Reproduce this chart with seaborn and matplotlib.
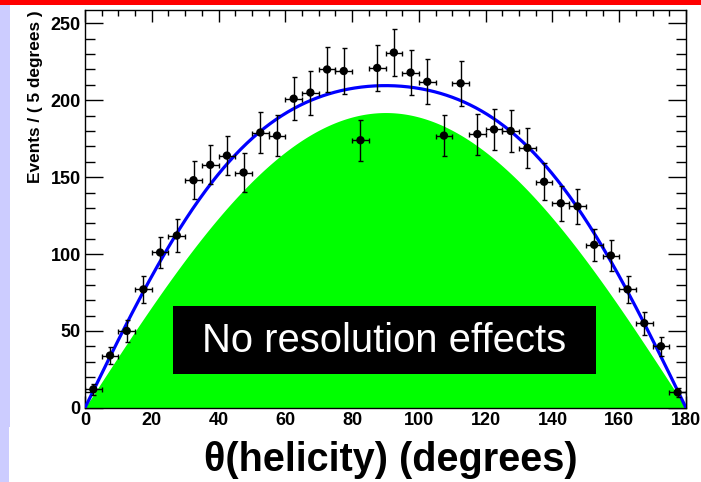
import numpy as np
import pandas as pd
import matplotlib
matplotlib.use("Agg")
import matplotlib.pyplot as plt
from matplotlib.patches import Rectangle
from matplotlib.ticker import MultipleLocator
import seaborn as sns

# Helicity-angle histogram: 5-degree bins, event counts per bin
bin_centers = [2.5 + 5 * i for i in range(36)]
counts = [12, 34, 50, 77, 101, 112, 148, 158, 164, 153, 179, 177,
          201, 205, 220, 219, 174, 221, 231, 218, 212, 177, 211, 178,
          181, 180, 169, 147, 133, 131, 106, 99, 77, 55, 40, 10]
bin_half_width = 2.5

# Angular model dN/dtheta = A * sin(theta) * (1 + b * cos^2(theta)), A = value at 90 degrees
fit_amplitude = 209.5       # fitted model including resolution
fit_cos2_coeff = 0.22
true_amplitude = 192.0      # generator-level shape, no resolution effects
true_cos2_coeff = 0.0

x_ticks = [0, 20, 40, 60, 80, 100, 120, 140, 160, 180]
y_ticks = [0, 50, 100, 150, 200, 250]

sns.set_theme(style="ticks")
plt.rcParams["font.family"] = ["Liberation Sans", "DejaVu Sans"]

W, H = 701, 482
fig = plt.figure(figsize=(W / 100, H / 100), dpi=100)
fig.patch.set_facecolor("white")

# frame decorations
fig.patches.append(Rectangle((0, 1 - 4.5 / H), 1, 4.5 / H, transform=fig.transFigure,
                             facecolor="#ff0000", edgecolor="none", zorder=0))
fig.patches.append(Rectangle((0, (H - 427) / H), 10 / W, (427 - 4.5) / H, transform=fig.transFigure,
                             facecolor="#ccccff", edgecolor="none", zorder=0))
fig.patches.append(Rectangle((0, 0), 9 / W, (H - 427) / H, transform=fig.transFigure,
                             facecolor="#ccccff", edgecolor="none", zorder=0))

left, right = 85 / W, 686 / W
bottom, top = 1 - 407.8 / H, 1 - 9.5 / H
ax = fig.add_axes([left, bottom, right - left, top - bottom])
ax.set_facecolor("white")


def helicity_shape(theta_deg, amplitude, cos2_coeff):
    r = np.deg2rad(theta_deg)
    return amplitude * np.sin(r) * (1 + cos2_coeff * np.cos(r) ** 2)


theta = np.linspace(0, 180, 721)
curves = pd.DataFrame({
    "theta": theta,
    "fit": helicity_shape(theta, fit_amplitude, fit_cos2_coeff),
    "true": helicity_shape(theta, true_amplitude, true_cos2_coeff),
})

# true distribution as a filled green area
ax.fill_between(curves["theta"], 0, curves["true"], color="#00ff00", linewidth=0, zorder=1)

# text box
ax.add_patch(Rectangle((26.4, 21.8), 153.0 - 26.4, 66.4 - 21.8, facecolor="black",
                       edgecolor="none", zorder=2))
ax.text((26.4 + 153.0) / 2, (21.8 + 66.4) / 2 - 0.5, "No resolution effects", color="white",
        fontsize=28.8, ha="center", va="center", zorder=3)

# fitted curve
sns.lineplot(data=curves, x="theta", y="fit", color="#0000ff", linewidth=2.3, ax=ax,
             zorder=4, estimator=None, sort=False)

# data with Poisson errors
data = pd.DataFrame({"theta": bin_centers, "events": counts})
data["err"] = np.sqrt(data["events"])
ax.errorbar(data["theta"], data["events"], yerr=data["err"], xerr=bin_half_width,
            fmt="none", ecolor="black", elinewidth=1.0, capsize=1.8, capthick=1.0, zorder=5)
sns.scatterplot(data=data, x="theta", y="events", color="black", s=36, edgecolor="none",
                ax=ax, zorder=6, legend=False)

ax.set_xlim(0, 180)
ax.set_ylim(0, 259)
ax.set_xticks(x_ticks)
ax.set_yticks(y_ticks)
ax.set_xticklabels([str(v) for v in x_ticks])
ax.set_yticklabels([str(v) for v in y_ticks])
ax.xaxis.set_minor_locator(MultipleLocator(5))
ax.yaxis.set_minor_locator(MultipleLocator(10))

for s in ax.spines.values():
    s.set_visible(True)
    s.set_color("black")
    s.set_linewidth(1.0)

ax.tick_params(axis="x", which="major", direction="in", length=8.3, width=1.0, color="black",
               top=True, bottom=True, labelsize=13, pad=3)
ax.tick_params(axis="x", which="minor", direction="in", length=4.0, width=1.0, color="black",
               top=True, bottom=True)
ax.tick_params(axis="y", which="major", direction="in", length=13, width=1.0, color="black",
               left=True, right=True, labelsize=13, pad=3)
ax.tick_params(axis="y", which="minor", direction="in", length=7.2, width=1.0, color="black",
               left=True, right=True)
for lab in ax.get_xticklabels() + ax.get_yticklabels():
    lab.set_fontweight("bold")
    lab.set_color("black")

ax.set_xlabel("")
ax.set_ylabel("")
fig.text(36 / W, 1 - 10 / H, "Events / ( 5 degrees )", rotation=90, ha="center", va="top",
         fontsize=12.4, fontweight="bold", color="black")
fig.text(391 / W, 1 - 460 / H, "θ(helicity) (degrees)", ha="center", va="center",
         fontsize=28.5, fontweight="bold", color="black")

fig.savefig("out.png", dpi=100)
